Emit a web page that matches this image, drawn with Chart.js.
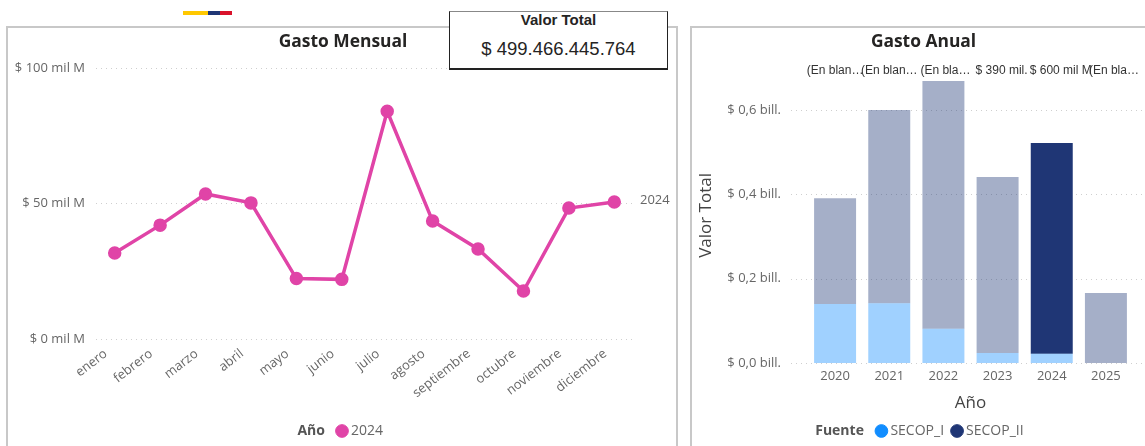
<!DOCTYPE html>
<html>
<head>
<meta charset="utf-8">
<script src="https://cdn.jsdelivr.net/npm/chart.js@4"></script>
<style>
  html, body { margin: 0; padding: 0; background: #fff; }
  body { width: 1145px; height: 446px; position: relative; overflow: hidden; }
  .panel { position: absolute; top: 26px; height: 430px; border: 2px solid #c8c8c8; box-sizing: border-box; }
  #panelMes { left: 6px; width: 672px; }
  #panelAnio { left: 690px; width: 470px; }
  canvas { position: absolute; top: 0; }
  #chartMes { left: 0; }
  #chartAnio { left: 690px; }
  .flag { position: absolute; top: 11px; height: 4px; }
  #kpi { position: absolute; left: 449px; top: 11px; width: 219px; height: 59px; box-sizing: border-box;
         background: #fff; border: 1px solid #222; border-top-color: #888; border-bottom-width: 2px;
         font-family: "Liberation Sans", sans-serif; color: #252423; text-align: center; }
  #kpi .t { font-size: 15px; font-weight: bold; line-height: 16px; margin-top: 0; }
  #kpi .v { font-size: 18.5px; line-height: 22px; margin-top: 10px; }
</style>
</head>
<body>
<div class="flag" style="left:183px;width:25px;background:#FFC800"></div>
<div class="flag" style="left:208px;width:12px;background:#1F3675"></div>
<div class="flag" style="left:220px;width:12px;background:#D9122B"></div>
<div class="panel" id="panelMes"></div>
<div class="panel" id="panelAnio"></div>
<canvas id="chartMes" width="686" height="446"></canvas>
<canvas id="chartAnio" width="455" height="446"></canvas>
<div id="kpi"><div class="t">Valor Total</div><div class="v">$ 499.466.445.764</div></div>

<script>
// Gasto mensual (miles de millones)
const meses = ['enero', 'febrero', 'marzo', 'abril', 'mayo', 'junio', 'julio', 'agosto', 'septiembre', 'octubre', 'noviembre', 'diciembre'];
const gasto2024 = [31.7, 42, 53.5, 50.2, 22.3, 22, 84, 43.5, 33.2, 17.7, 48.3, 50.5];
const ticksMes = [0, 50, 100];

// Gasto anual (billones)
const anios = ['2020', '2021', '2022', '2023', '2024', '2025'];
const secopI = [0.14, 0.142, 0.081, 0.024, 0.022, 0];
const secopII = [0.251, 0.458, 0.588, 0.417, 0.5, 0.166];
const ticksAnio = [0, 0.2, 0.4, 0.6];
const etiquetasAnio = ['(En blan…', '(En blan…', '(En bla…', '$ 390 mil.', '$ 600 mil M', '(En bla…'];

const FONT = "'Open Sans', sans-serif";
const GRAY = '#666666';
const PINK = '#E044A7';
const BLUE = '#118DFF';
const NAVY = '#1F3675';
const BLUE_FADED = 'rgba(17, 141, 255, 0.4)';
const NAVY_FADED = 'rgba(31, 54, 117, 0.4)';

// dotted gridlines that run past the plot area
function dotGrid(x0, x1) {
    return {
        id: 'dotGrid',
        beforeDatasetsDraw(chart) {
            const c = chart.ctx, y = chart.scales.y;
            c.save();
            c.strokeStyle = '#cfcfcf';
            c.setLineDash([1, 4]);
            y.ticks.forEach(t => {
                const py = Math.round(y.getPixelForValue(t.value)) + 0.5;
                c.beginPath();
                c.moveTo(x0, py);
                c.lineTo(x1, py);
                c.stroke();
            });
            c.restore();
        }
    };
}

// bold legend caption; title and legend moved to the reference position
function legendTitle(text, shift, titleShift, gap) {
    return {
        id: 'legendTitle',
        afterLayout(chart) {
            chart.legend.left += shift;
            chart.legend.right += shift;
            chart.titleBlock.left += titleShift;
            chart.titleBlock.right += titleShift;
        },
        afterDraw(chart) {
            const c = chart.ctx, l = chart.legend;
            const first = l.legendHitBoxes[0];
            c.save();
            c.font = 'bold 14px ' + FONT;
            c.fillStyle = '#555555';
            c.textAlign = 'right';
            c.textBaseline = 'middle';
            c.fillText(text, l.left + (l.right - l.left - l.lineWidths[0]) / 2 - gap, first.top + first.height / 2);
            c.restore();
        }
    };
}

new Chart(document.getElementById('chartMes'), {
    type: 'line',
    data: {
        labels: meses,
        datasets: [{
            label: '2024',
            data: gasto2024,
            borderColor: PINK,
            backgroundColor: PINK,
            borderWidth: 3.5,
            tension: 0,
            pointRadius: 5,
            pointBackgroundColor: PINK,
            pointBorderColor: PINK
        }]
    },
    options: {
        responsive: false,
        animation: false,
        layout: { padding: { top: 32, right: 49, bottom: -2, left: 0 } },
        scales: {
            y: {
                min: 0,
                max: 100,
                afterBuildTicks: s => { s.ticks = ticksMes.map(v => ({ value: v })); },
                afterFit: s => { s.width = 92; },
                grid: { display: false, drawTicks: false },
                border: { display: false },
                ticks: {
                    padding: 7,
                    color: GRAY,
                    font: { size: 13, family: FONT },
                    callback: v => '$ ' + v + ' mil M'
                }
            },
            x: {
                offset: true,
                afterFit: s => { s.height = 79; },
                grid: { display: false, drawTicks: false },
                border: { display: false },
                ticks: {
                    minRotation: 38,
                    maxRotation: 38,
                    padding: 7,
                    labelOffset: -9,
                    color: GRAY,
                    font: { size: 13, family: FONT }
                }
            }
        },
        plugins: {
            title: {
                display: true,
                text: 'Gasto Mensual',
                color: '#252423',
                font: { size: 17.4, weight: 'bold', family: FONT },
                padding: { top: 0, bottom: 15 }
            },
            legend: {
                position: 'bottom',
                labels: {
                    usePointStyle: true,
                    pointStyle: 'circle',
                    boxWidth: 4,
                    boxHeight: 9,
                    padding: 6,
                    color: GRAY,
                    font: { size: 14, family: FONT },
                    generateLabels: chart => [{
                        text: chart.data.datasets[0].label,
                        fillStyle: PINK,
                        strokeStyle: PINK,
                        fontColor: GRAY,
                        pointStyle: 'circle',
                        datasetIndex: 0
                    }]
                }
            },
            tooltip: { enabled: false }
        }
    },
    plugins: [dotGrid(96, 636), legendTitle('Año', 43, 24.5, 12), {
        id: 'serieFinal',
        afterDraw(chart) {
            const c = chart.ctx;
            const pt = chart.getDatasetMeta(0).data[gasto2024.length - 1];
            c.save();
            c.font = '13px ' + FONT;
            c.fillStyle = GRAY;
            c.textBaseline = 'middle';
            c.fillText('2024', 640, pt.y - 2);
            c.restore();
        }
    }]
});

new Chart(document.getElementById('chartAnio'), {
    type: 'bar',
    data: {
        labels: anios,
        datasets: [
            {
                label: 'SECOP_I',
                data: secopI,
                backgroundColor: BLUE_FADED,
                stack: 'a',
                barPercentage: 0.775,
                categoryPercentage: 1
            },
            {
                label: 'SECOP_II',
                data: secopII,
                backgroundColor: anios.map(a => a === '2024' ? NAVY : NAVY_FADED),
                stack: 'a',
                barPercentage: 0.775,
                categoryPercentage: 1
            }
        ]
    },
    options: {
        responsive: false,
        animation: false,
        layout: { padding: { top: 32, right: 12, bottom: -2, left: 0 } },
        scales: {
            y: {
                stacked: true,
                min: 0,
                max: 0.7,
                afterBuildTicks: s => { s.ticks = ticksAnio.map(v => ({ value: v })); },
                afterFit: s => { s.width = 118; },
                grid: { display: false, drawTicks: false },
                border: { display: false },
                title: {
                    display: true,
                    text: 'Valor Total',
                    color: '#444444',
                    font: { size: 17, family: FONT },
                    padding: { top: 6, bottom: 0 }
                },
                ticks: {
                    padding: 27,
                    color: GRAY,
                    font: { size: 13, family: FONT },
                    callback: v => '$ ' + v.toFixed(1).replace('.', ',') + ' bill.'
                }
            },
            x: {
                stacked: true,
                afterFit: s => { s.height = 50; },
                grid: { display: false, drawTicks: false },
                border: { display: false },
                title: {
                    display: true,
                    text: 'Año',
                    color: '#444444',
                    font: { size: 17, family: FONT },
                    padding: { top: 2, bottom: 0 }
                },
                ticks: {
                    padding: 5,
                    color: GRAY,
                    font: { size: 13, family: FONT }
                }
            }
        },
        plugins: {
            title: {
                display: true,
                text: 'Gasto Anual',
                color: '#252423',
                font: { size: 17.4, weight: 'bold', family: FONT },
                padding: { top: 0, bottom: 15 }
            },
            legend: {
                position: 'bottom',
                labels: {
                    usePointStyle: true,
                    pointStyle: 'circle',
                    boxWidth: 4,
                    boxHeight: 9,
                    padding: 11,
                    color: GRAY,
                    font: { size: 14, family: FONT },
                    generateLabels: chart => [BLUE, NAVY].map((col, i) => ({
                        text: chart.data.datasets[i].label,
                        fillStyle: col,
                        strokeStyle: col,
                        fontColor: GRAY,
                        pointStyle: 'circle',
                        datasetIndex: i
                    }))
                }
            },
            tooltip: { enabled: false }
        }
    },
    plugins: [dotGrid(791 - 690, 1145 - 690), legendTitle('Fuente', 40, 12, 10), {
        id: 'etiquetasAnio',
        afterDraw(chart) {
            const c = chart.ctx, x = chart.scales.x;
            const nudge = [0, 0, 2, 4, 9, 8];
            c.save();
            c.font = "12px 'Liberation Sans', sans-serif";
            c.fillStyle = '#333333';
            c.textAlign = 'center';
            c.textBaseline = 'middle';
            etiquetasAnio.forEach((t, i) => c.fillText(t, x.getPixelForValue(i) + nudge[i], 71));
            c.restore();
        }
    }]
});
</script>
</body>
</html>
